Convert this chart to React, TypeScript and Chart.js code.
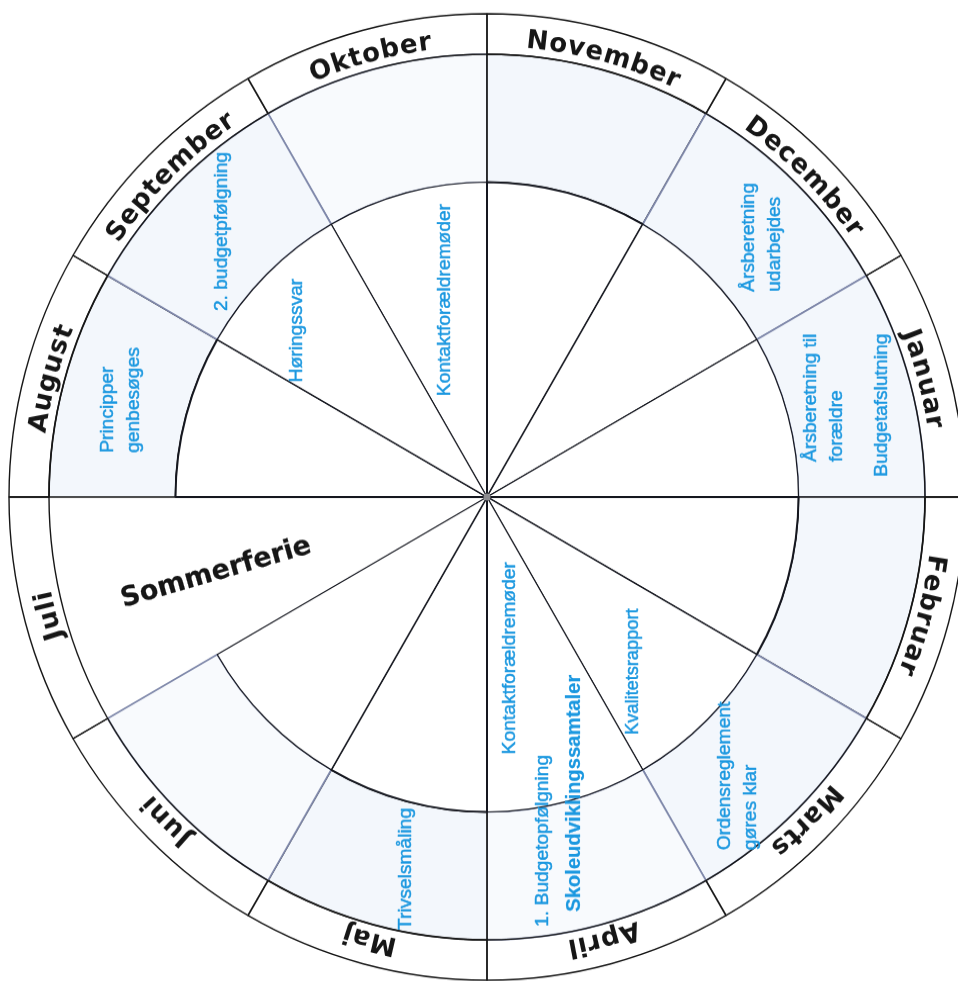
import React, { useEffect, useRef } from "react";
import { Chart, registerables } from "chart.js";

Chart.register(...registerables);

// Months in wheel order, starting at the sector left of 12 o'clock
const months = [
  "Oktober", "November", "December", "Januar", "Februar", "Marts",
  "April", "Maj", "Juni", "Juli", "August", "September",
];
// every month takes an equal share of the year wheel
const monthShare = [1, 1, 1, 1, 1, 1, 1, 1, 1, 1, 1, 1];
const bandShare = [1, 1, 1, 1, 1, 1, 1, 1, 1, 1, 1, 1];
const innerShare = [1, 1, 1, 1, 1, 1, 1, 1, 1, 1, 1, 1];

// Activities written in the wheel
const eventTexts: string[][] = [
  ["2. budgetpfølgning"],
  ["Høringssvar"],
  ["Kontaktforældremøder"],
  ["Principper", "genbesøges"],
  ["Årsberetning", "udarbejdes"],
  ["Årsberetning til", "forældre"],
  ["Budgetafslutning"],
  ["Kontaktforældremøder"],
  ["1. Budgetopfølgning"],
  ["Skoleudviklingssamtaler"],
  ["Kvalitetsrapport"],
  ["Ordensreglement", "gøres klar"],
  ["Trivselsmåling"],
  ["Sommerferie"],
];

// Placement (angle clockwise from 12 o'clock in degrees, radius as share of wheel radius)
const eventLayout = [
  { angle: 314.7, r: 0.781, align: "center", rot: -90, size: 19, bold: false, dark: false },
  { angle: 310.9, r: 0.526, align: "center", rot: -90, size: 19, bold: false, dark: false },
  { angle: 347.8, r: 0.417, align: "center", rot: -90, size: 19, bold: false, dark: false },
  { angle: 276.8, r: 0.771, align: "left", rot: -90, size: 19, bold: false, dark: false },
  { angle: 53.5, r: 0.714, align: "left", rot: -90, size: 19, bold: false, dark: false },
  { angle: 84.1, r: 0.708, align: "left", rot: -90, size: 19, bold: false, dark: false },
  { angle: 87.1, r: 0.827, align: "left", rot: -90, size: 19, bold: false, dark: false },
  { angle: 171.8, r: 0.337, align: "center", rot: -90, size: 19, bold: false, dark: false },
  { angle: 172.5, r: 0.897, align: "left", rot: -90, size: 19, bold: false, dark: false },
  { angle: 167.9, r: 0.878, align: "left", rot: -90, size: 20, bold: true, dark: false },
  { angle: 139.8, r: 0.473, align: "center", rot: -90, size: 18, bold: false, dark: false },
  { angle: 144.35, r: 0.899, align: "left", rot: -90, size: 19, bold: false, dark: false },
  { angle: 190.8, r: 0.912, align: "left", rot: -90, size: 19, bold: false, dark: false },
  { angle: 254.5, r: 0.588, align: "center", rot: -16, size: 27, bold: true, dark: true },
];

const BLUE = "#1b98e0";
const INK = "#161616";
const GREYLINE = "#7f88aa";
const TINT = "#f3f7fc";
const TINT2 = "#f8fafd";

const wheelText = {
  id: "wheelText",
  afterDatasetsDraw(chart: any) {
    const ctx: CanvasRenderingContext2D = chart.ctx;
    const meta = chart.getDatasetMeta(0);
    const arcs = meta.data;
    if (!arcs || !arcs.length) return;
    const a0 = arcs[0].getProps(["x", "y", "innerRadius", "outerRadius"], true);
    const cx = a0.x;
    const cy = a0.y;
    const R = a0.outerRadius;
    const rin = a0.innerRadius;

    // month names along the outer ring
    ctx.save();
    ctx.font = "bold 26px 'DejaVu Sans'";
    ctx.fillStyle = INK;
    ctx.textAlign = "center";
    ctx.textBaseline = "alphabetic";
    const rb = rin + 8;
    const spacing = 0.8;
    arcs.forEach((arc: any, i: number) => {
      const p = arc.getProps(["startAngle", "endAngle"], true);
      const mid = (p.startAngle + p.endAngle) / 2;
      const label = String(chart.data.labels[i]);
      const chars = Array.from(label);
      const widths = chars.map((c) => ctx.measureText(c).width);
      const total = widths.reduce((s, w) => s + w, 0) + spacing * (chars.length - 1);
      let acc = -total / 2;
      chars.forEach((c, k) => {
        const a = mid + (acc + widths[k] / 2) / rb;
        ctx.save();
        ctx.translate(cx + rb * Math.cos(a), cy + rb * Math.sin(a));
        ctx.rotate(a + Math.PI / 2);
        ctx.fillText(c, 0, 0);
        ctx.restore();
        acc += widths[k] + spacing;
      });
    });
    ctx.restore();

    // activities
    eventTexts.forEach((lines, i) => {
      const L = eventLayout[i];
      const a = ((L.angle - 90) * Math.PI) / 180;
      const x = cx + L.r * R * Math.cos(a);
      const y = cy + L.r * R * Math.sin(a);
      ctx.save();
      ctx.translate(x, y);
      ctx.rotate((L.rot * Math.PI) / 180);
      ctx.font = L.dark
        ? `bold ${L.size}px 'DejaVu Sans'`
        : `${L.bold ? "bold " : ""}${L.size}px 'Liberation Sans', Arial, sans-serif`;
      ctx.fillStyle = L.dark ? INK : BLUE;
      ctx.strokeStyle = L.dark ? INK : BLUE;
      ctx.lineWidth = L.dark || L.bold ? 0.2 : 0.45;
      ctx.lineJoin = "round";
      ctx.textAlign = L.align as CanvasTextAlign;
      ctx.textBaseline = "middle";
      const lh = 26;
      lines.forEach((t, j) => {
        const ty = (j - (lines.length - 1) / 2) * lh;
        ctx.fillText(t, 0, ty);
        ctx.strokeText(t, 0, ty);
      });
      ctx.restore();
    });

    // centre pin
    ctx.save();
    ctx.beginPath();
    ctx.arc(cx, cy, 3.5, 0, Math.PI * 2);
    ctx.fillStyle = "#8c8c90";
    ctx.fill();
    ctx.restore();
  },
};

export default function App() {
  const ref = useRef<HTMLCanvasElement | null>(null);

  useEffect(() => {
    if (!ref.current) return;
    const blackOrGrey = [GREYLINE, INK, GREYLINE, GREYLINE, INK, GREYLINE, GREYLINE, INK, GREYLINE, GREYLINE, INK, GREYLINE];
    const chart = new Chart(ref.current, {
      type: "doughnut",
      data: {
        labels: months,
        datasets: [
          {
            label: "Måneder",
            data: monthShare,
            weight: 40,
            order: 0,
            backgroundColor: "rgba(255,255,255,0)",
            borderColor: INK,
            borderWidth: 1.4,
            clip: false,
          } as any,
          {
            label: "Ring",
            data: bandShare,
            weight: 126.5,
            order: 2,
            backgroundColor: [TINT2, TINT, TINT, TINT, TINT, TINT, TINT2, TINT, TINT2, "rgba(255,255,255,0)", TINT, TINT],
            borderColor: blackOrGrey,
            borderWidth: [1.7, 1.7, 1.7, 1.7, 1.7, 1.7, 1.7, 1.7, 1.7, 0, 1.7, 1.7],
            clip: false,
          } as any,
          {
            label: "Inderst",
            data: innerShare,
            weight: 311.5,
            order: 1,
            backgroundColor: ["#fff", "#fff", "#fff", "#fff", "#fff", "#fff", "#fff", "#fff", "#fff", "rgba(255,255,255,0)", "#fff", "#fff"],
            borderColor: "#15171f",
            borderWidth: [1.2, 2, 1.2, 1.2, 2, 1.2, 1.2, 2, 1.2, 0, 2, 1.2],
            clip: false,
          } as any,
        ],
      },
      options: {
        animation: false,
        responsive: false,
        events: [],
        rotation: -30,
        cutout: 0,
        radius: 478,
        layout: { padding: { left: 16, right: 0, top: 13, bottom: 0 } },
        plugins: {
          legend: { display: false },
          tooltip: { enabled: false },
        },
      } as any,
      plugins: [wheelText],
    });
    return () => chart.destroy();
  }, []);

  return (
    <div
      style={{
        position: "fixed",
        left: 0,
        top: 0,
        width: 958,
        height: 981,
        overflow: "hidden",
        background: "#ffffff",
      }}
    >
      <canvas
        ref={ref}
        width={958}
        height={981}
        style={{ display: "block", transform: "scaleY(1.011)", transformOrigin: "487px 497px" }}
      />
    </div>
  );
}
